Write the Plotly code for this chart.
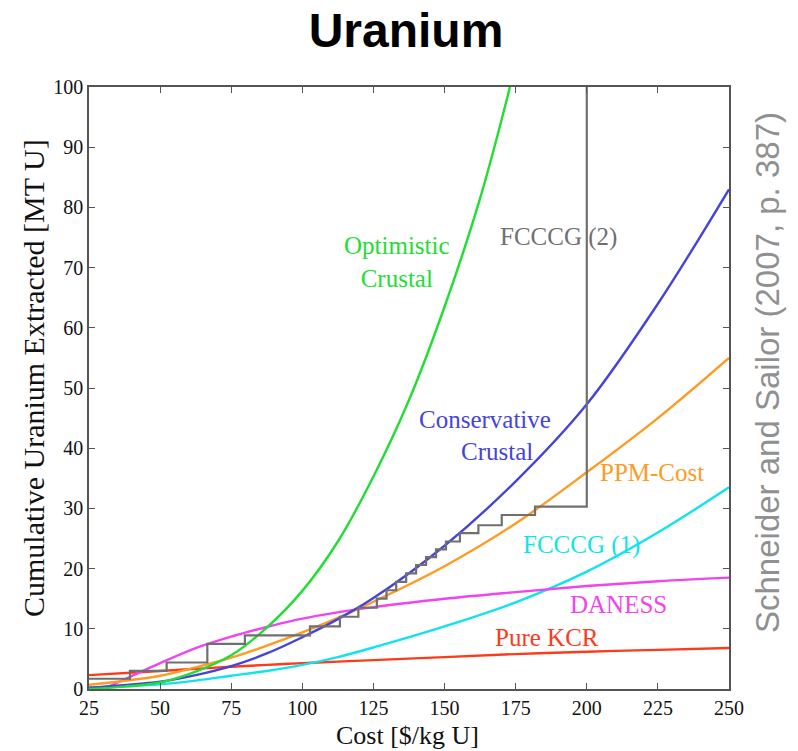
import plotly.graph_objects as go

# ---- data ----
cost_std = [25, 50, 62.5, 75, 87.5, 100, 112.5, 125, 150, 175, 200, 225, 250]

opt_cost = [25, 37.5, 50, 62.5, 75, 87.5, 100, 112.5, 125, 137.5, 150, 162.5, 173]
opt_vals = [0, 0.4, 1.1, 2.9, 5.6, 10.2, 16.3, 24.5, 35.3, 48, 63.5, 81.5, 100]

cons_vals = [0.2, 1.2, 2.3, 3.8, 5.9, 8.6, 11.6, 15.1, 23.8, 34.5, 47.3, 64, 83]
ppm_vals = [0.7, 2.2, 3.6, 5.2, 7.2, 9.4, 11.8, 14.5, 20.4, 27.5, 36, 45, 55]
fcccg1_vals = [0.2, 0.8, 1.4, 2.2, 3.0, 4.0, 5.3, 6.9, 10.4, 14.4, 19.5, 26, 33.5]
kcr_vals = [2.3, 3.0, 3.35, 3.7, 4.0, 4.3, 4.55, 4.8, 5.3, 5.8, 6.2, 6.5, 6.8]

daness_cost = [30, 37.5, 50, 62.5, 75, 87.5, 100, 125, 150, 175, 200, 225, 250]
daness_vals = [0, 1.6, 4.3, 6.8, 8.7, 10.3, 11.7, 13.6, 15.0, 16.1, 17.1, 17.9, 18.5]

fcccg2_cost = [25, 39.4, 52.3, 66.6, 79.8, 102.7, 113.2, 119.7, 126.2, 129.6, 133,
               136.5, 140, 143.5, 147, 150.5, 155.4, 161.9, 170.1, 181.8, 200]
fcccg2_vals = [1.7, 3.0, 4.4, 7.5, 8.9, 10.4, 12.0, 13.5, 15.0, 16.4, 17.8,
               19.2, 20.6, 21.9, 23.2, 24.5, 25.9, 27.2, 28.9, 30.3, 100]

x_ticks = [25, 50, 75, 100, 125, 150, 175, 200, 225, 250]
y_ticks = [0, 10, 20, 30, 40, 50, 60, 70, 80, 90, 100]

GREEN = "#22dd33"
BLUE = "#4444dd"
ORANGE = "#ff9a22"
CYAN = "#11e3ee"
MAGENTA = "#f044f0"
RED = "#ff3a1a"
GRAY = "#707070"

fig = go.Figure()

def add_line(x, y, color, shape="spline", width=2.4):
    fig.add_trace(go.Scatter(x=x, y=y, mode="lines",
                             line=dict(color=color, width=width, shape=shape),
                             showlegend=False, hoverinfo="skip"))

add_line(cost_std, kcr_vals, RED)
add_line(cost_std, fcccg1_vals, CYAN)
add_line(daness_cost, daness_vals, MAGENTA)
add_line(cost_std, ppm_vals, ORANGE)
add_line(cost_std, cons_vals, BLUE)
add_line(opt_cost, opt_vals, GREEN)
add_line(fcccg2_cost, fcccg2_vals, GRAY, shape="hv", width=2.2)

serif = "Liberation Serif, Times New Roman, serif"
sans = "Liberation Sans, Arial, sans-serif"

labels = [
    ("Optimistic<br>Crustal", 133.3, 70.9, GREEN),
    ("FCCCG (2)", 189.9, 75.1, GRAY),
    ("Conservative", 164.2, 44.7, BLUE),
    ("Crustal", 168.5, 39.5, BLUE),
    ("PPM-Cost", 223, 36, ORANGE),
    ("FCCCG (1)", 198, 23.9, CYAN),
    ("DANESS", 211, 14, MAGENTA),
    ("Pure KCR", 186, 8.5, RED),
]
for text, x, y, c in labels:
    fig.add_annotation(x=x, y=y, xref="x", yref="y", text=text, showarrow=False,
                       font=dict(family=serif, size=25, color=c),
                       xanchor="center", yanchor="middle", align="center")

# axis titles
fig.add_annotation(x=(407 - 89) / 640, y=(689 - 735) / 602, xref="paper", yref="paper",
                   text="Cost [$/kg U]", showarrow=False,
                   font=dict(family=serif, size=26, color="#111111"),
                   xanchor="center", yanchor="middle")
fig.add_annotation(x=(33 - 89) / 640, y=(689 - 378) / 602, xref="paper", yref="paper",
                   text="Cumulative Uranium Extracted [MT U]", showarrow=False,
                   textangle=-90, font=dict(family=serif, size=30, color="#111111"),
                   xanchor="center", yanchor="middle")

# source note
fig.add_annotation(x=(767 - 89) / 640, y=(689 - 373) / 602, xref="paper", yref="paper",
                   text="Schneider and Sailor (2007, p. 387)", showarrow=False,
                   textangle=-90, font=dict(family=sans, size=33, color="#909090"),
                   xanchor="center", yanchor="middle")

axis_common = dict(showgrid=False, zeroline=False, showline=True, mirror="ticks",
                   linecolor="#555555", linewidth=1.5, ticks="inside", ticklen=6,
                   tickcolor="#555555", tickwidth=1.2,
                   tickfont=dict(family=serif, size=20, color="#111111"))

# page body has an 8px margin: figure is shifted by (8, 8) on screen
W, H = 790, 743
fig.update_layout(
    width=W, height=H,
    margin=dict(l=81, r=69, t=79, b=62),
    paper_bgcolor="white", plot_bgcolor="white",
    title=dict(text="<b>Uranium</b>", x=398 / W, xanchor="center",
               y=1 - 22 / H, yanchor="middle", yref="container",
               font=dict(family=sans, size=48, color="black")),
    xaxis=dict(range=[25, 250], tickvals=x_ticks, ticktext=[str(v) for v in x_ticks],
               **axis_common),
    yaxis=dict(range=[0, 100], tickvals=y_ticks, ticktext=[str(v) for v in y_ticks],
               **axis_common),
)

fig.write_html("out.html")
